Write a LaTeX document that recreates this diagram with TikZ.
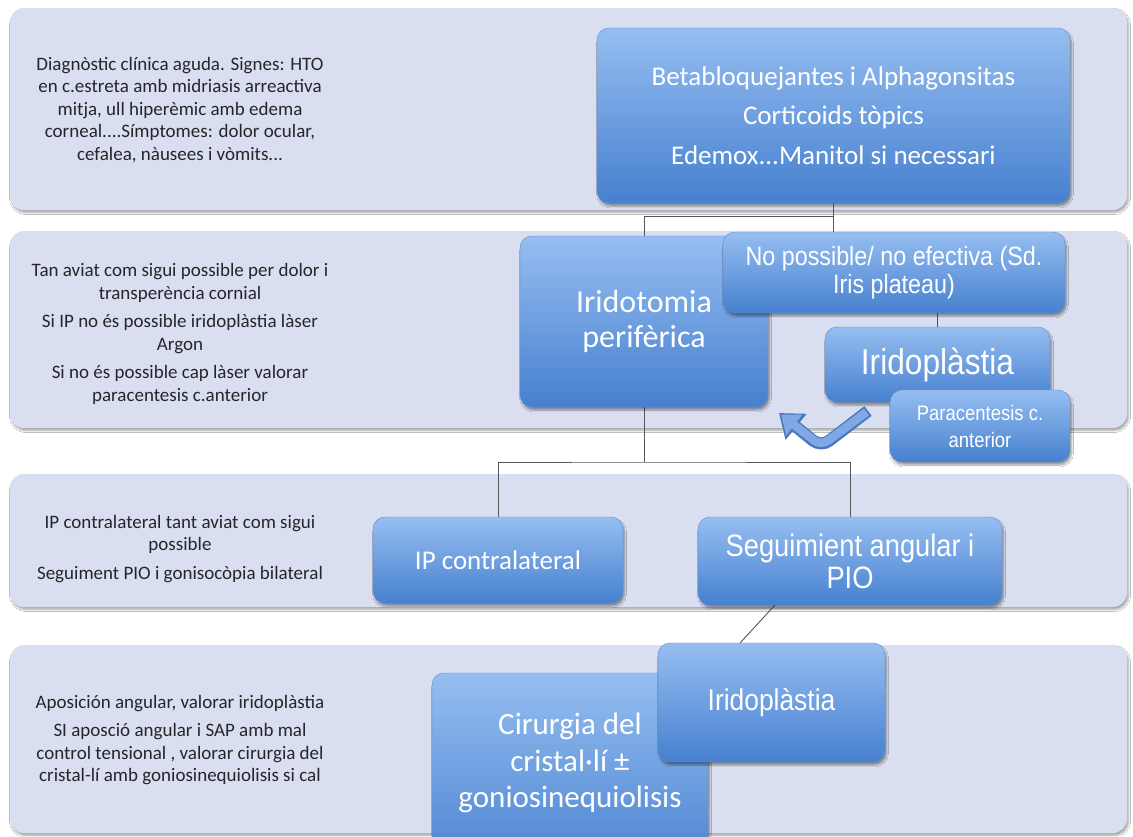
\documentclass[tikz,border=0pt]{standalone}
\usepackage{fontspec}
\setmainfont{Carlito}
\newfontfamily\narrowf[FakeStretch=0.88]{Liberation Sans}
\usetikzlibrary{shadows.blur,arrows.meta,calc}
\definecolor{bandfill}{RGB}{217,222,240}
\definecolor{boxtop}{RGB}{150,190,241}
\definecolor{boxbot}{RGB}{70,128,207}
\definecolor{boxedge}{RGB}{95,140,205}
\definecolor{txtdark}{RGB}{38,38,42}
\definecolor{linegray}{RGB}{85,85,90}
\definecolor{arrowfill}{RGB}{128,168,228}
\definecolor{arrowedge}{RGB}{72,118,190}
\begin{document}
\begin{tikzpicture}[x=1pt,y=-1pt,
  band/.style={fill=bandfill, rounded corners=14pt,
    blur shadow={shadow xshift=1.5pt, shadow yshift=-2.5pt, shadow opacity=35, shadow blur steps=6}},
  bluebox/.style={rectangle, rounded corners=12pt, top color=boxtop, bottom color=boxbot,
    draw=boxedge, line width=0.4pt, text=white, align=center, inner sep=0pt,
    blur shadow={shadow xshift=1.5pt, shadow yshift=-3pt, shadow opacity=40, shadow blur steps=6}},
  boxtext/.style={text=white, align=center, inner sep=0pt},
  lefttext/.style={text=txtdark, align=center, inner sep=0pt, font=\fontsize{19}{22.5}\selectfont},
  conn/.style={draw=linegray, line width=0.9pt},
]
\clip (0,0) rectangle (1133,836);
\fill[white] (0,0) rectangle (1133,836);

% bands
\path[band] (10,8) rectangle (1127,210);
\path[band] (10,231) rectangle (1127,428);
\path[band] (10,474) rectangle (1127,607);
\path[band] (10,645) rectangle (1127,833);

% left texts
\node[lefttext] (t1) at (180,110) {Diagnòstic clínica aguda. Signes: HTO\\en c.estreta amb midriasis arreactiva\\mitja, ull hiperèmic amb edema\\corneal....Símptomes: dolor ocular,\\cefalea, nàusees i vòmits...};
\node[lefttext] (t2) at (180,334) {Tan aviat com sigui possible per dolor i\\transperència cornial\\[6pt]Si IP no és possible iridoplàstia làser\\Argon\\[6pt]Si no és possible cap làser valorar\\paracentesis c.anterior};
\node[lefttext] (t3) at (180,549) {IP contralateral tant aviat com sigui\\possible\\[6pt]Seguiment PIO i gonisocòpia bilateral};
\node[lefttext] (t4) at (180,740) {Aposición angular, valorar iridoplàstia\\[6pt]SI aposció angular i SAP amb mal\\control tensional , valorar cirurgia del\\cristal-lí amb goniosinequiolisis si cal};

\node[bluebox, minimum width=473pt, minimum height=175pt, font=\fontsize{27}{39.5}\selectfont] (top) at (833.5,115.5) {Betabloquejantes i Alphagonsitas\\Corticoids tòpics\\Edemox...Manitol si necessari};

\coordinate (j1) at (833.5,216);
\coordinate (j2) at (644,462);
\draw[conn] (top.south) -- (833.5,232);
\draw[conn] (j1) -| (644,236);
\draw[conn] (937.5,313) -- (937.5,327);
\draw[conn] (644,407) -- (j2);
\draw[conn] (498,517) |- (j2) -| (850,517);
\draw[conn] (775,605) -- (740,643);

\node[bluebox, minimum width=248pt, minimum height=171pt, font=\fontsize{32}{35}\selectfont] (irid) at (644,321.5) {Iridotomia\\perifèrica};
\node[bluebox, minimum width=342pt, minimum height=81pt, font=\narrowf\fontsize{26.5}{28}\selectfont] (nopos) at (894,272.5) {No possible/ no efectiva (Sd.\\Iris plateau)};
\node[bluebox, minimum width=225pt, minimum height=75pt, font=\narrowf\fontsize{36}{38}\selectfont] (iridop1) at (937.5,364.5) {Iridoplàstia};
\node[bluebox, minimum width=180pt, minimum height=72pt, font=\narrowf\fontsize{21}{27}\selectfont] (parac) at (980,426) {Paracentesis c.\\anterior};

% curved arrow
\draw[arrowedge, line width=12pt, rounded corners=10pt, -{Triangle[length=22pt,width=32pt]}] (868,411) -- (821,447) -- (779,413);
\draw[arrowfill, line width=8.5pt, rounded corners=9pt, -{Triangle[length=17pt,width=25pt]}, shorten >=2.5pt] (866.5,412) -- (821,446) -- (779,413);

\node[bluebox, minimum width=250pt, minimum height=86pt, font=\fontsize{27}{30}\selectfont] (ipc) at (498,560) {IP contralateral};
\node[bluebox, minimum width=304pt, minimum height=88pt, font=\narrowf\fontsize{31}{32}\selectfont] (seg) at (850,561) {Seguimient angular i\\PIO};

\node[bluebox, minimum width=276pt, minimum height=207pt] (cir) at (570,776.5) {};
\node[boxtext, font=\fontsize{31}{36.5}\selectfont] (cirtext) at (570,763) {Cirurgia del\\cristal·lí ±\\goniosinequiolisis};
\node[bluebox, minimum width=227pt, minimum height=119pt, font=\narrowf\fontsize{30}{32}\selectfont] (iridop2) at (771.5,702.5) {Iridoplàstia};
\end{tikzpicture}
\end{document}
